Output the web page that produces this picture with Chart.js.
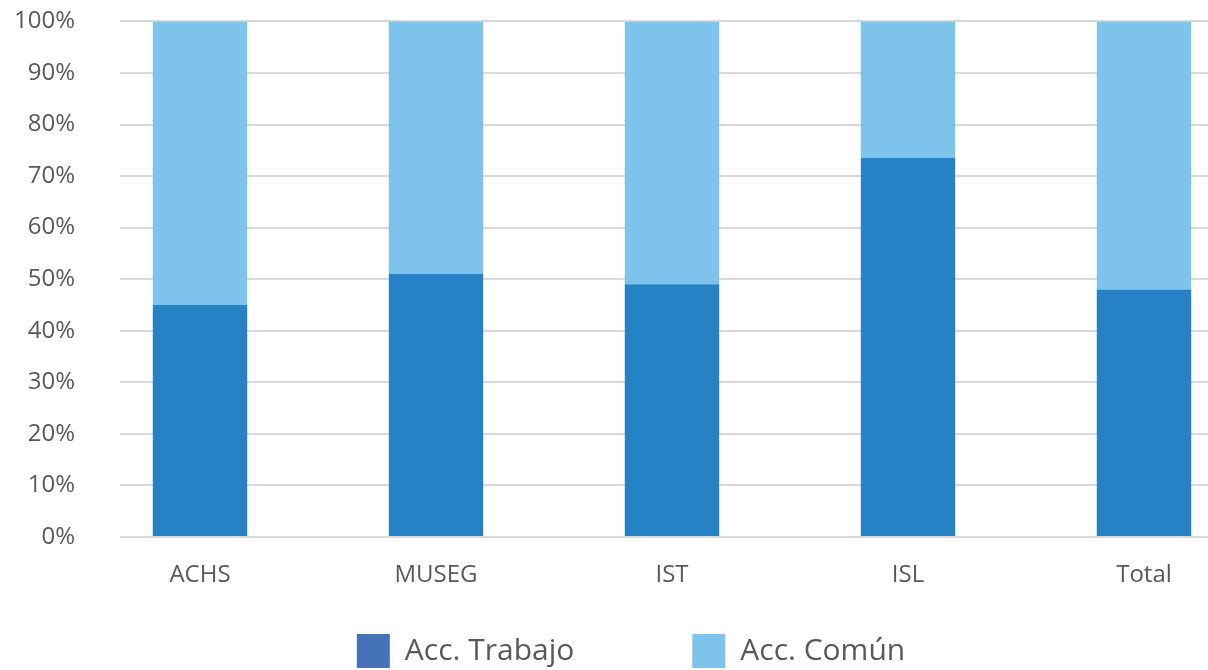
<!DOCTYPE html>
<html><head><meta charset="utf-8">
<script src="https://cdn.jsdelivr.net/npm/chart.js@4"></script>
<style>html,body{margin:0;padding:0;background:#fff;overflow:hidden;width:1208px;height:670px}
#wrap{position:absolute;left:0;top:0;width:1262px;height:670px}</style>
</head><body>
<div id="wrap"><canvas id="c" width="1262" height="670"></canvas></div>
<script>
const categories = ["ACHS", "MUSEG", "IST", "ISL", "Total"];
const accTrabajo = [45, 51, 49, 73.5, 48];
const accComun = [55, 49, 51, 26.5, 52];
const yTicks = [0, 10, 20, 30, 40, 50, 60, 70, 80, 90, 100];
const seriesNames = ["Acc. Trabajo", "Acc. Común"];

const DARK = "#2582C5", LIGHT = "#7DC3EC", LEGEND_DARK = "#4572B9";
const FONT = "'Open Sans', 'Noto Sans', sans-serif";
const LEG_PAD = 118;   // horizontal gap between legend items
const LEG_H = 40;      // legend box height
const LEG_ITEM_TOP = 634;

const gridMask = {
  id: "gridMask",
  beforeDatasetsDraw(chart) {
    const ctx = chart.ctx, a = chart.chartArea;
    ctx.save();
    ctx.fillStyle = "#fff";
    ctx.fillRect(a.left - 2, a.top - 3, 120 - a.left + 2, a.bottom - a.top + 6);
    ctx.restore();
  }
};

const legendSpacing = {
  id: "legendSpacing",
  afterInit(chart) {
    const lg = chart.legend;
    if (!lg || lg._patched) return;
    lg._patched = true;
    const origFit = lg.fit.bind(lg);
    lg.fit = function () { origFit(); this.height = LEG_H; };
    const origDraw = lg.draw.bind(lg);
    lg.draw = function () {
      const t = this.top;
      this.top = LEG_ITEM_TOP - LEG_PAD;
      origDraw();
      this.top = t;
    };
  }
};

new Chart(document.getElementById("c"), {
  type: "bar",
  data: {
    labels: categories,
    datasets: [
      { label: seriesNames[0], data: accTrabajo, backgroundColor: DARK, borderWidth: 0 },
      { label: seriesNames[1], data: accComun, backgroundColor: LIGHT, borderWidth: 0 }
    ]
  },
  options: {
    responsive: false,
    animation: false,
    events: [],
    layout: { padding: { top: 21, left: 0, right: 0, bottom: 0 } },
    datasets: { bar: { categoryPercentage: 1, barPercentage: 0.40 } },
    scales: {
      x: {
        stacked: true,
        grid: { display: false },
        border: { display: false },
        ticks: { color: "#595959", font: { family: FONT, size: 24 }, padding: 16 },
        afterFit(s) { s.height = 93; }
      },
      y: {
        stacked: true,
        min: 0, max: 100,
        afterBuildTicks(s) { s.ticks = yTicks.map(v => ({ value: v })); },
        grid: { color: "#D9D9D9", lineWidth: 2, drawTicks: false },
        border: { display: false },
        ticks: { color: "#595959", font: { family: FONT, size: 24 }, padding: 7,
                 callback: v => v + "%" },
        afterFit(s) { s.width = 82; }
      }
    },
    plugins: {
      tooltip: { enabled: false },
      legend: {
        position: "bottom",
        labels: {
          font: { family: FONT, size: 30 },
          color: "#595959",
          boxWidth: 33, boxHeight: 34,
          padding: LEG_PAD,
          generateLabels(chart) {
            return seriesNames.map((n, i) => ({
              text: n,
              fillStyle: i === 0 ? LEGEND_DARK : LIGHT,
              strokeStyle: "rgba(0,0,0,0)",
              lineWidth: 0,
              fontColor: "#595959",
              datasetIndex: i
            }));
          }
        }
      }
    }
  },
  plugins: [gridMask, legendSpacing]
});
</script>
</body></html>
